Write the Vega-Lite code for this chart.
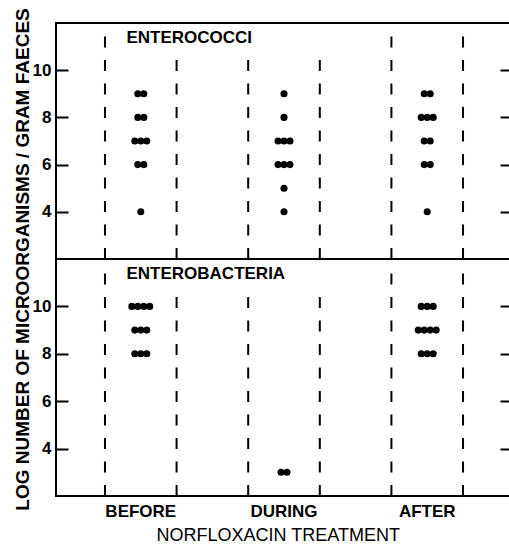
{
  "$schema": "https://vega.github.io/schema/vega-lite/v6.json",
  "background": "white",
  "padding": {"left": 11, "top": 6, "right": 0, "bottom": 60},
  "spacing": 0,
  "bounds": "flush",
  "datasets": {
    "counts": [
      {"g": "Enterococci", "phase": "BEFORE", "log": 9},
      {"g": "Enterococci", "phase": "BEFORE", "log": 9},
      {"g": "Enterococci", "phase": "BEFORE", "log": 8},
      {"g": "Enterococci", "phase": "BEFORE", "log": 8},
      {"g": "Enterococci", "phase": "BEFORE", "log": 7},
      {"g": "Enterococci", "phase": "BEFORE", "log": 7},
      {"g": "Enterococci", "phase": "BEFORE", "log": 7},
      {"g": "Enterococci", "phase": "BEFORE", "log": 6},
      {"g": "Enterococci", "phase": "BEFORE", "log": 6},
      {"g": "Enterococci", "phase": "BEFORE", "log": 4},
      {"g": "Enterococci", "phase": "DURING", "log": 9},
      {"g": "Enterococci", "phase": "DURING", "log": 8},
      {"g": "Enterococci", "phase": "DURING", "log": 7},
      {"g": "Enterococci", "phase": "DURING", "log": 7},
      {"g": "Enterococci", "phase": "DURING", "log": 7},
      {"g": "Enterococci", "phase": "DURING", "log": 6},
      {"g": "Enterococci", "phase": "DURING", "log": 6},
      {"g": "Enterococci", "phase": "DURING", "log": 6},
      {"g": "Enterococci", "phase": "DURING", "log": 5},
      {"g": "Enterococci", "phase": "DURING", "log": 4},
      {"g": "Enterococci", "phase": "AFTER", "log": 9},
      {"g": "Enterococci", "phase": "AFTER", "log": 9},
      {"g": "Enterococci", "phase": "AFTER", "log": 8},
      {"g": "Enterococci", "phase": "AFTER", "log": 8},
      {"g": "Enterococci", "phase": "AFTER", "log": 8},
      {"g": "Enterococci", "phase": "AFTER", "log": 7},
      {"g": "Enterococci", "phase": "AFTER", "log": 7},
      {"g": "Enterococci", "phase": "AFTER", "log": 6},
      {"g": "Enterococci", "phase": "AFTER", "log": 6},
      {"g": "Enterococci", "phase": "AFTER", "log": 4},
      {"g": "Enterobacteria", "phase": "BEFORE", "log": 10},
      {"g": "Enterobacteria", "phase": "BEFORE", "log": 10},
      {"g": "Enterobacteria", "phase": "BEFORE", "log": 10},
      {"g": "Enterobacteria", "phase": "BEFORE", "log": 10},
      {"g": "Enterobacteria", "phase": "BEFORE", "log": 9},
      {"g": "Enterobacteria", "phase": "BEFORE", "log": 9},
      {"g": "Enterobacteria", "phase": "BEFORE", "log": 9},
      {"g": "Enterobacteria", "phase": "BEFORE", "log": 8},
      {"g": "Enterobacteria", "phase": "BEFORE", "log": 8},
      {"g": "Enterobacteria", "phase": "BEFORE", "log": 8},
      {"g": "Enterobacteria", "phase": "DURING", "log": 3},
      {"g": "Enterobacteria", "phase": "DURING", "log": 3},
      {"g": "Enterobacteria", "phase": "AFTER", "log": 10},
      {"g": "Enterobacteria", "phase": "AFTER", "log": 10},
      {"g": "Enterobacteria", "phase": "AFTER", "log": 10},
      {"g": "Enterobacteria", "phase": "AFTER", "log": 9},
      {"g": "Enterobacteria", "phase": "AFTER", "log": 9},
      {"g": "Enterobacteria", "phase": "AFTER", "log": 9},
      {"g": "Enterobacteria", "phase": "AFTER", "log": 9},
      {"g": "Enterobacteria", "phase": "AFTER", "log": 8},
      {"g": "Enterobacteria", "phase": "AFTER", "log": 8},
      {"g": "Enterobacteria", "phase": "AFTER", "log": 8}
    ],
    "edges": [
      {"phase": "BEFORE", "side": "start", "bottom": 2, "top": 11.6},
      {"phase": "DURING", "side": "start", "bottom": 2, "top": 10.5},
      {"phase": "AFTER", "side": "start", "bottom": 2, "top": 11.6},
      {"phase": "BEFORE", "side": "end", "bottom": 2, "top": 10.5},
      {"phase": "DURING", "side": "end", "bottom": 2, "top": 10.5},
      {"phase": "AFTER", "side": "end", "bottom": 2, "top": 11.6}
    ],
    "phases": [
      {"phase": "BEFORE"},
      {"phase": "DURING"},
      {"phase": "AFTER"}
    ]
  },
  "vconcat": [
    {
      "width": 456,
      "height": 236,
      "resolve": {"axis": {"y": "independent"}},
      "layer": [
        {
          "data": {"name": "counts"},
          "transform": [
            {"filter": "datum.g === 'Enterococci'"},
            {"window": [{"op": "row_number", "as": "r"}, {"op": "count", "as": "n"}], "groupby": ["phase", "log"], "frame": [null, null]},
            {"calculate": "datum.r - (datum.n + 1) / 2", "as": "off"}
          ],
          "mark": {"type": "circle", "size": 50, "color": "black", "opacity": 1},
          "encoding": {
            "x": {"field": "phase", "type": "nominal", "scale": {"domain": ["BEFORE", "DURING", "AFTER"], "paddingInner": 0.5, "paddingOuter": 0.342}, "axis": null},
            "xOffset": {"field": "off", "type": "quantitative", "scale": {"domain": [-6, 6]}},
            "y": {"field": "log", "type": "quantitative", "scale": {"domain": [2, 12], "nice": false, "zero": false},
                  "axis": {"orient": "left", "values": [4, 6, 8, 10], "title": null, "grid": false, "domain": false, "tickSize": -12, "tickWidth": 2, "tickColor": "black", "labelPadding": 17}}
          }
        },
        {
          "data": {"name": "edges"},
          "transform": [{"filter": "datum.side === 'end'"}],
          "mark": {"type": "rule", "color": "black", "strokeWidth": 2, "strokeDash": [11, 12.5]},
          "encoding": {
            "x": {"field": "phase", "type": "nominal", "bandPosition": 1, "axis": null},
            "y": {"field": "bottom", "type": "quantitative", "scale": {"domain": [2, 12], "nice": false, "zero": false},
                  "axis": {"orient": "right", "values": [4, 6, 8, 10], "title": null, "grid": false, "domain": false, "labels": false, "tickSize": -12, "tickWidth": 2, "tickColor": "black"}},
            "y2": {"field": "top"}
          }
        },
        {
          "data": {"name": "edges"},
          "transform": [{"filter": "datum.side === 'start'"}],
          "mark": {"type": "rule", "color": "black", "strokeWidth": 2, "strokeDash": [11, 12.5]},
          "encoding": {
            "x": {"field": "phase", "type": "nominal", "bandPosition": 0, "axis": null},
            "y": {"field": "bottom", "type": "quantitative", "axis": null},
            "y2": {"field": "top"}
          }
        },
        {
          "data": {"values": [{"label": "ENTEROCOCCI"}]},
          "mark": {"type": "text", "align": "left", "baseline": "middle", "font": "Liberation Sans", "fontWeight": "bold", "fontSize": 17, "color": "black"},
          "encoding": {
            "x": {"datum": "BEFORE", "type": "nominal", "bandPosition": 0.3, "axis": null},
            "y": {"datum": 11.37, "type": "quantitative", "axis": null},
            "text": {"field": "label"}
          }
        }
      ]
    },
    {
      "width": 456,
      "height": 237,
      "resolve": {"axis": {"y": "independent"}},
      "layer": [
        {
          "data": {"name": "counts"},
          "transform": [
            {"filter": "datum.g === 'Enterobacteria'"},
            {"window": [{"op": "row_number", "as": "r"}, {"op": "count", "as": "n"}], "groupby": ["phase", "log"], "frame": [null, null]},
            {"calculate": "datum.r - (datum.n + 1) / 2", "as": "off"}
          ],
          "mark": {"type": "circle", "size": 50, "color": "black", "opacity": 1},
          "encoding": {
            "x": {"field": "phase", "type": "nominal", "scale": {"domain": ["BEFORE", "DURING", "AFTER"], "paddingInner": 0.5, "paddingOuter": 0.342}, "axis": null},
            "xOffset": {"field": "off", "type": "quantitative", "scale": {"domain": [-6, 6]}},
            "y": {"field": "log", "type": "quantitative", "scale": {"domain": [2, 12], "nice": false, "zero": false},
                  "axis": {"orient": "left", "values": [4, 6, 8, 10], "title": "LOG NUMBER OF MICROORGANISMS / GRAM FAECES", "grid": false, "domain": false, "tickSize": -12, "tickWidth": 2, "tickColor": "black", "labelPadding": 17,
                           "titleX": -34, "titleY": 0, "titleAngle": 270, "titleAlign": "center", "titleBaseline": "middle", "titleFontWeight": "bold", "titleFontSize": 19}}
          }
        },
        {
          "data": {"name": "edges"},
          "transform": [{"filter": "datum.side === 'end'"}],
          "mark": {"type": "rule", "color": "black", "strokeWidth": 2, "strokeDash": [11, 12.5]},
          "encoding": {
            "x": {"field": "phase", "type": "nominal", "bandPosition": 1, "axis": null},
            "y": {"field": "bottom", "type": "quantitative", "scale": {"domain": [2, 12], "nice": false, "zero": false},
                  "axis": {"orient": "right", "values": [4, 6, 8, 10], "title": null, "grid": false, "domain": false, "labels": false, "tickSize": -12, "tickWidth": 2, "tickColor": "black"}},
            "y2": {"field": "top"}
          }
        },
        {
          "data": {"name": "edges"},
          "transform": [{"filter": "datum.side === 'start'"}],
          "mark": {"type": "rule", "color": "black", "strokeWidth": 2, "strokeDash": [11, 12.5]},
          "encoding": {
            "x": {"field": "phase", "type": "nominal", "bandPosition": 0, "axis": null},
            "y": {"field": "bottom", "type": "quantitative", "axis": null},
            "y2": {"field": "top"}
          }
        },
        {
          "data": {"values": [{"label": "ENTEROBACTERIA"}]},
          "mark": {"type": "text", "align": "left", "baseline": "middle", "font": "Liberation Sans", "fontWeight": "bold", "fontSize": 17, "color": "black"},
          "encoding": {
            "x": {"datum": "BEFORE", "type": "nominal", "bandPosition": 0.3, "axis": null},
            "y": {"datum": 11.37, "type": "quantitative", "axis": null},
            "text": {"field": "label"}
          }
        },
        {
          "data": {"name": "phases"},
          "mark": {"type": "text", "align": "center", "baseline": "middle", "font": "Liberation Sans", "fontWeight": "bold", "fontSize": 17, "color": "black"},
          "encoding": {
            "x": {"field": "phase", "type": "nominal", "bandPosition": 0.5, "axis": null},
            "y": {"datum": 1.32, "type": "quantitative", "axis": null},
            "text": {"field": "phase"}
          }
        },
        {
          "data": {"values": [{"label": "NORFLOXACIN TREATMENT"}]},
          "mark": {"type": "text", "align": "center", "baseline": "middle", "font": "Liberation Sans", "fontWeight": "normal", "fontSize": 18, "color": "black"},
          "encoding": {
            "x": {"datum": "DURING", "type": "nominal", "bandPosition": 0.42, "axis": null},
            "y": {"datum": 0.31, "type": "quantitative", "axis": null},
            "text": {"field": "label"}
          }
        }
      ]
    }
  ],
  "config": {
    "view": {"stroke": "black", "strokeWidth": 2},
    "axis": {
      "labelFont": "Liberation Sans", "labelFontWeight": "bold", "labelFontSize": 17, "labelColor": "black",
      "titleFont": "Liberation Sans", "titleColor": "black"
    }
  }
}
